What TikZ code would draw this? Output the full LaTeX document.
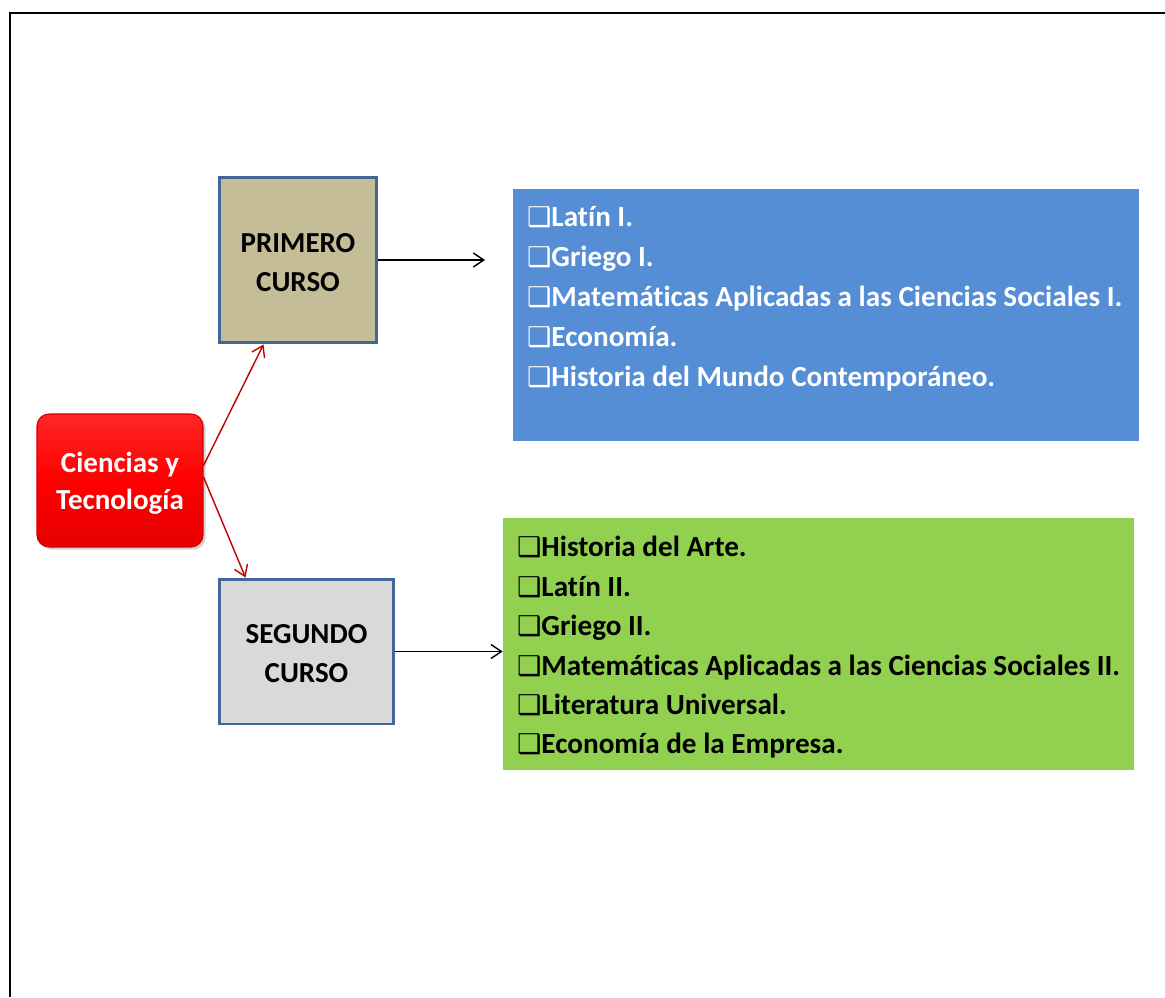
\documentclass[tikz,border=0pt]{standalone}
\usepackage{fontspec}
\setmainfont{Carlito}[Ligatures={NoCommon}]
\newfontfamily\dv{DejaVu Sans}
\usetikzlibrary{arrows.meta,shadows,calc}
\definecolor{bordblue}{HTML}{41679A}
\definecolor{tanfill}{HTML}{C4BD97}
\definecolor{grayfill}{HTML}{D9D9D9}
\definecolor{bluefill}{HTML}{558ED5}
\definecolor{greenfill}{HTML}{92D050}
\definecolor{arrowred}{HTML}{C00000}
\newcommand\cbx{{\dv\fontsize{15.5}{15.5}\selectfont ❑}}
\begin{document}
\begin{tikzpicture}[x=0.02cm,y=-0.02cm,
  course/.style={draw=bordblue, line width=1.7pt, align=center, inner sep=0,
    font=\bfseries\fontsize{16.5}{22.3}\selectfont},
  listtxt/.style={anchor=north west, align=left, inner sep=0,
    font=\bfseries\fontsize{16.6}{#1}\selectfont},
  blk/.style={draw=black, line width=0.8pt, -{Straight Barb[length=6pt,width=8pt]}},
  redarr/.style={draw=arrowred, line width=0.8pt, -{Straight Barb[length=6pt,width=8pt]}}
]
\useasboundingbox (0,0) rectangle (1165,997);
\fill[white] (0,0) rectangle (1165,997);
\draw[line width=1.3pt] (1165,13) -- (10,13) -- (10,997);

% left root box
\node[rounded corners=0.24cm, draw=red!80!black, line width=0.6pt,
  top color=red!85!white, bottom color=red!90!black, middle color=red,
  drop shadow={shadow xshift=1.5pt, shadow yshift=-1.5pt, opacity=0.35},
  minimum width=3.32cm, minimum height=2.66cm, inner sep=0, align=center,
  text=white, font=\bfseries\fontsize{16.5}{21}\selectfont]
  (r) at (120,480.5) {\rule{0pt}{15pt}Ciencias y\\Tecnología};

% course boxes
\node[course, fill=tanfill, minimum width=3.16cm, minimum height=3.32cm]
  (p1) at (298,260) {\rule{0pt}{13.5pt}PRIMERO\\CURSO};
\node[course, fill=grayfill, minimum width=3.5cm, minimum height=2.9cm]
  (s2) at (306.5,651.5) {\rule{0pt}{13.5pt}SEGUNDO\\CURSO};

% subject boxes
\node[fill=bluefill, minimum width=12.52cm, minimum height=5.04cm, inner sep=0]
  (b) at (826,315) {};
\node[fill=greenfill, minimum width=12.62cm, minimum height=5.04cm, inner sep=0]
  (g) at (818.5,644) {};

\node[listtxt=22.7, text=white] (bt) at ([xshift=0.28cm,yshift=-0.35cm]b.north west)
  {\cbx Latín I.\\
   \cbx Griego I.\\
   \cbx Matemáticas Aplicadas a las Ciencias Sociales I.\\
   \cbx Economía.\\
   \cbx Historia del Mundo Contemporáneo.};

\node[listtxt=22.4, text=black] (gt) at ([xshift=0.28cm,yshift=-0.37cm]g.north west)
  {\cbx Historia del Arte.\\
   \cbx Latín II.\\
   \cbx Griego II.\\
   \cbx Matemáticas Aplicadas a las Ciencias Sociales II.\\
   \cbx Literatura Universal.\\
   \cbx Economía de la Empresa.};

% connectors
\coordinate (a1) at (485,260);
\draw[blk] (p1.east) -- (a1);
\draw[blk] (s2.east) -- (s2.east -| g.west);
\draw[redarr] ([yshift=0.3cm]r.east) -- ([xshift=0.92cm]p1.south west);
\draw[redarr] ([yshift=0.07cm]r.east) -- ([xshift=0.56cm]s2.north west);
\end{tikzpicture}
\end{document}
